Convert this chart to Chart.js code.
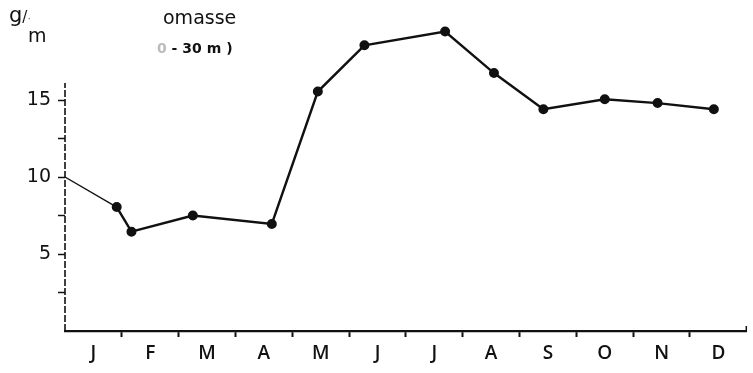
<!DOCTYPE html>
<html>
<head>
<meta charset="utf-8">
<script src="https://cdn.jsdelivr.net/npm/chart.js@4"></script>
<style>
  html, body { margin: 0; padding: 0; background: #fff; }
  #wrap { position: relative; width: 753px; height: 373px; }
  canvas { position: absolute; left: 0; top: 0; }
  .t { position: absolute; color: #111; font-family: "DejaVu Sans", sans-serif; white-space: nowrap; line-height: 1; }
</style>
</head>
<body>
<div id="wrap">
  <canvas id="c" width="753" height="373"></canvas>
  <div class="t" style="left:9px;top:5px;font-size:21px;">g<span style="font-size:15px;">/</span><span style="font-size:11px;color:#777;">·</span></div>
  <div class="t" style="left:28px;top:26px;font-size:19px;">m</div>
  <div class="t" style="left:163px;top:8px;font-size:19px;">omasse</div>
  <div class="t" style="left:157px;top:41px;font-size:14px;font-weight:bold;"><span style="color:#bbb;">0</span> - 30 m )</div>
</div>
<script>
// Month labels (placed at month centres)
const monthLabels = ['J','F','M','A','M','J','J','A','S','O','N','D'];
// Sampling dates as month fractions (0 = start of January)
const sampleTimes = [0.0, 0.91, 1.17, 2.25, 3.64, 4.45, 5.27, 6.69, 7.55, 8.42, 9.50, 10.43, 11.42];
// Biomass values, g/m²
const biomass = [10.0, 8.05, 6.45, 7.5, 6.95, 15.55, 18.55, 19.45, 16.75, 14.4, 15.05, 14.8, 14.4];
// Y tick labels shown
const yLabels = [5, 10, 15];

const points = sampleTimes.map((t, i) => ({ x: t, y: biomass[i] }));

const yAxisLine = {
  id: 'yAxisLine',
  afterDraw(chart) {
    const { ctx, scales: { x, y } } = chart;
    ctx.save();
    ctx.strokeStyle = '#111';
    ctx.lineWidth = 1.6;
    ctx.setLineDash([7, 2]);
    ctx.beginPath();
    ctx.moveTo(x.getPixelForValue(0), y.getPixelForValue(0));
    ctx.lineTo(x.getPixelForValue(0), y.getPixelForValue(16.1));
    ctx.stroke();
    ctx.setLineDash([]);
    ctx.lineWidth = 1.5;
    ctx.beginPath();
    ctx.moveTo(x.getPixelForValue(12) - 0.5, y.getPixelForValue(0));
    ctx.lineTo(x.getPixelForValue(12) - 0.5, y.getPixelForValue(0) - 5);
    ctx.stroke();
    ctx.restore();
  }
};

new Chart(document.getElementById('c'), {
  type: 'scatter',
  data: {
    datasets: [{
      data: points,
      showLine: true,
      borderColor: '#111',
      backgroundColor: '#111',
      borderWidth: 2.4,
      pointRadius: ctx => ctx.dataIndex === 0 ? 0 : 3.8,
      pointHoverRadius: 3.8,
      segment: { borderWidth: ctx => ctx.p0DataIndex === 0 ? 1.4 : 2.4 },
      tension: 0
    }]
  },
  options: {
    responsive: false,
    animation: false,
    events: [],
    layout: { padding: { top: 23, right: 1, left: 0, bottom: 0 } },
    plugins: { legend: { display: false }, tooltip: { enabled: false }, title: { display: false } },
    scales: {
      x: {
        type: 'linear', min: 0, max: 12,
        afterBuildTicks: s => { const t = []; for (let v = 0; v <= 24; v++) t.push({ value: v / 2 }); s.ticks = t; },
        afterFit: s => { s.height = 42; },
        ticks: {
          autoSkip: false, maxRotation: 0,
          color: '#111',
          font: { family: 'Open Sans', size: 19, weight: 600 },
          padding: 5,
          callback: v => (Math.abs(v % 1 - 0.5) < 1e-6) ? monthLabels[Math.floor(v)] : ''
        },
        grid: {
          drawOnChartArea: false,
          tickLength: 6,
          tickWidth: 2,
          tickColor: ctx => (ctx.tick && Number.isInteger(ctx.tick.value) && ctx.tick.value > 0 && ctx.tick.value < 12) ? '#111' : 'rgba(0,0,0,0)'
        },
        border: { display: true, color: '#111', width: 2.2 }
      },
      y: {
        type: 'linear', min: 0, max: 20,
        afterBuildTicks: s => { const t = []; for (let v = 2.5; v <= 15; v += 2.5) t.push({ value: v }); s.ticks = t; },
        afterFit: s => { s.width = 65; },
        ticks: {
          autoSkip: false,
          color: '#111',
          font: { family: 'DejaVu Sans', size: 19 },
          padding: 7,
          callback: v => yLabels.includes(v) ? String(v) : ''
        },
        grid: {
          drawOnChartArea: false,
          tickLength: 7,
          tickWidth: 1.5,
          tickColor: '#111'
        },
        border: { display: false }
      }
    }
  },
  plugins: [yAxisLine]
});
</script>
</body>
</html>
